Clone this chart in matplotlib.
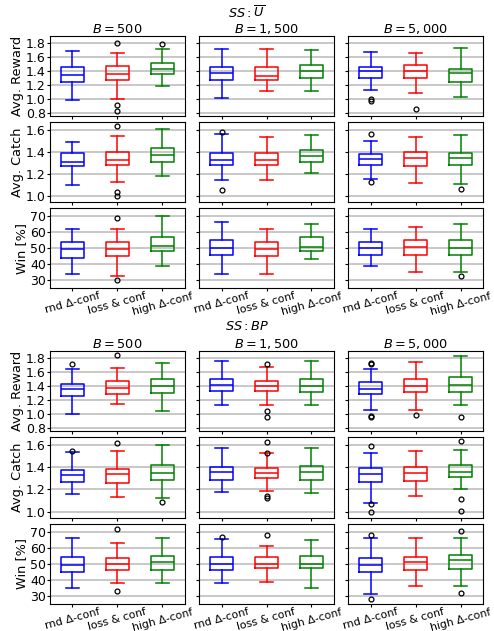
import numpy as np
import matplotlib
matplotlib.use("Agg")
import matplotlib.pyplot as plt

# labels
groups = [r"$SS:\overline{U}$", r"$SS:BP$"]
budgets = [r"$B=500$", r"$B=1,500$", r"$B=5,000$"]
metrics = ["Avg. Reward", "Avg. Catch", "Win [%]"]
methods = ["rnd Δ-conf", "loss & conf", "high Δ-conf"]
colors = ["blue", "red", "green"]

# box stats: [whislo, q1, med, q3, whishi] per method, per budget
u_reward = [[[0.98, 1.24, 1.34, 1.45, 1.68], [0.995, 1.27, 1.35, 1.46, 1.65], [1.18, 1.35, 1.42, 1.505, 1.71]],
            [[1.01, 1.26, 1.36, 1.45, 1.71], [1.105, 1.26, 1.33, 1.45, 1.705], [1.105, 1.295, 1.39, 1.485, 1.695]],
            [[1.13, 1.29, 1.39, 1.45, 1.66], [1.08, 1.29, 1.39, 1.485, 1.65], [1.02, 1.24, 1.36, 1.43, 1.73]]]
u_reward_fl = [[[], [1.80, 0.905, 0.825], [1.785]],
               [[], [], []],
               [[1.00, 0.97], [0.85], []]]

u_catch = [[[1.10, 1.27, 1.31, 1.39, 1.49], [1.13, 1.28, 1.33, 1.40, 1.54], [1.18, 1.31, 1.37, 1.43, 1.61]],
           [[1.14, 1.28, 1.33, 1.39, 1.56], [1.14, 1.28, 1.33, 1.39, 1.53], [1.21, 1.31, 1.36, 1.42, 1.55]],
           [[1.15, 1.28, 1.335, 1.38, 1.50], [1.12, 1.27, 1.345, 1.40, 1.535], [1.11, 1.28, 1.34, 1.39, 1.55]]]
u_catch_fl = [[[], [1.63, 1.035, 0.995], []],
              [[1.58, 1.05], [], []],
              [[1.56, 1.13], [], [1.06]]]

u_win = [[[33.9, 43.9, 49.3, 53.7, 61.6], [32.8, 44.9, 49.3, 53.7, 61.6], [38.9, 48.1, 51.0, 56.6, 70.0]],
         [[33.9, 45.8, 50.0, 54.8, 66.0], [33.9, 45.0, 49.5, 53.9, 61.9], [43.1, 47.9, 50.6, 56.8, 65.0]],
         [[38.9, 45.8, 50.0, 53.9, 61.9], [34.9, 45.8, 50.8, 55.2, 62.9], [34.9, 45.8, 50.0, 55.2, 65.0]]]
u_win_fl = [[[], [69.0, 30.1], []],
            [[], [], []],
            [[], [], [32.2]]]

bp_reward = [[[1.00, 1.25, 1.36, 1.43, 1.645], [1.14, 1.285, 1.375, 1.47, 1.66], [1.035, 1.30, 1.40, 1.50, 1.72]],
             [[1.13, 1.325, 1.41, 1.49, 1.75], [1.13, 1.325, 1.40, 1.465, 1.665], [1.13, 1.305, 1.39, 1.49, 1.75]],
             [[1.06, 1.285, 1.35, 1.45, 1.64], [1.05, 1.31, 1.395, 1.49, 1.74], [1.125, 1.315, 1.415, 1.525, 1.82]]]
bp_reward_fl = [[[1.715], [1.84], []],
                [[], [1.715, 1.035, 0.96], []],
                [[1.73, 1.71, 0.965, 0.95], [0.99], [0.95]]]

bp_catch = [[[1.155, 1.27, 1.33, 1.375, 1.535], [1.135, 1.26, 1.335, 1.38, 1.545], [1.12, 1.285, 1.345, 1.42, 1.60]],
            [[1.175, 1.285, 1.355, 1.40, 1.57], [1.185, 1.30, 1.345, 1.39, 1.525], [1.165, 1.285, 1.355, 1.41, 1.57]],
            [[1.08, 1.27, 1.34, 1.395, 1.53], [1.145, 1.275, 1.345, 1.405, 1.55], [1.20, 1.31, 1.36, 1.42, 1.56]]]
bp_catch_fl = [[[1.55], [1.62], [1.085]],
               [[], [1.63, 1.53, 1.14, 1.12], []],
               [[1.59, 1.065, 0.995], [], [1.635, 1.11, 1.005]]]

bp_win = [[[35.0, 45.1, 49.3, 54.5, 65.9], [37.9, 46.0, 49.9, 53.8, 63.2], [37.9, 46.2, 50.9, 55.1, 65.9]],
          [[38.1, 46.0, 49.9, 54.0, 65.2], [38.9, 47.2, 49.9, 54.0, 60.9], [35.2, 47.2, 49.9, 55.1, 65.0]],
          [[31.0, 44.7, 49.1, 53.8, 65.9], [36.0, 46.2, 50.9, 54.5, 65.9], [36.0, 47.0, 52.2, 55.7, 65.9]]]
bp_win_fl = [[[], [71.9, 33.1], []],
             [[66.9], [67.9], []],
             [[68.0, 28.1], [], [70.2, 32.1]]]

all_stats = [[(u_reward, u_reward_fl), (u_catch, u_catch_fl), (u_win, u_win_fl)],
             [(bp_reward, bp_reward_fl), (bp_catch, bp_catch_fl), (bp_win, bp_win_fl)]]

ylims = [(0.752, 1.895), (0.945, 1.67), (25, 75)]
yticks = [np.arange(0.8, 1.81, 0.2), np.arange(1.0, 1.61, 0.2), np.arange(30, 71, 10)]
ytickfmt = ["%.1f", "%.1f", "%d"]

W, H = 494, 631
fig = plt.figure(figsize=(W / 100, H / 100), dpi=100)

# pixel layout of the two 3x3 blocks
block_tops = [36, 351]
block_bots = [288, 604]
sup_y = [12.5, 327]

for g in range(2):
    gs = fig.add_gridspec(3, 3, left=50 / W, right=483 / W,
                          top=1 - block_tops[g] / H, bottom=1 - block_bots[g] / H,
                          wspace=0.104, hspace=0.075)
    fig.text(0.5, 1 - sup_y[g] / H, groups[g], ha="center", va="center", fontsize=9.3)
    for r in range(3):
        boxes, fliers = all_stats[g][r]
        for c in range(3):
            ax = fig.add_subplot(gs[r, c])
            for k in range(3):
                lo, q1, med, q3, hi = boxes[c][k]
                st = [dict(whislo=lo, q1=q1, med=med, q3=q3, whishi=hi,
                           fliers=fliers[c][k])]
                col = colors[k]
                ax.bxp(st, positions=[k + 1], widths=0.5, capwidths=0.3,
                       boxprops=dict(color=col, lw=1.1),
                       whiskerprops=dict(color=col, lw=1.1),
                       capprops=dict(color=col, lw=1.1),
                       medianprops=dict(color=col, lw=1.1),
                       flierprops=dict(marker="o", markersize=3.5, markerfacecolor="none",
                                       markeredgecolor="black", markeredgewidth=0.9))
            ax.set_xlim(0.5, 3.5)
            ax.set_ylim(*ylims[r])
            ax.set_yticks(yticks[r])
            ax.yaxis.grid(True, color="#c4c4c4", lw=1.3)
            ax.set_axisbelow(True)
            ax.tick_params(labelsize=9, length=2, pad=1)
            ax.tick_params(axis="x", pad=0)
            if c == 0:
                ax.set_yticklabels([ytickfmt[r] % v for v in yticks[r]])
                ax.set_ylabel(metrics[r], fontsize=9.3, labelpad=1.5)
            else:
                ax.set_yticklabels([])
            ax.set_xticks([1, 2, 3])
            if r == 2:
                ax.set_xticklabels(methods, rotation=15, fontsize=7.8)
            else:
                ax.set_xticklabels([])
            if r == 0:
                ax.set_title(budgets[c], fontsize=9.3, pad=2)

fig.savefig("out.png", dpi=100)
